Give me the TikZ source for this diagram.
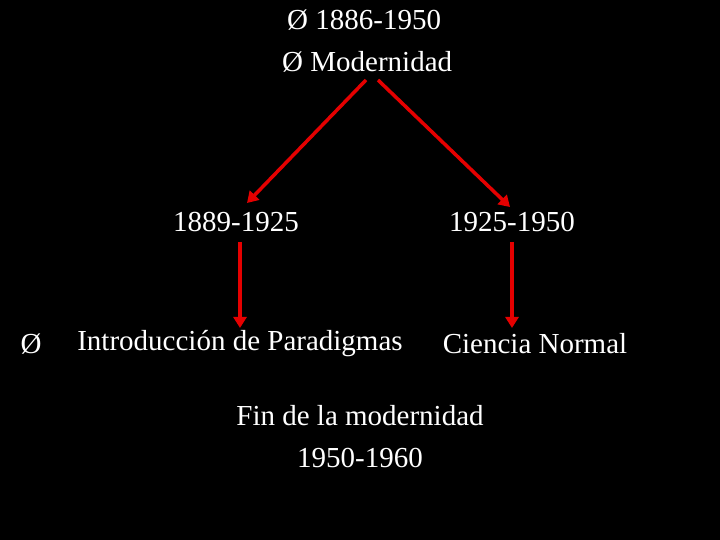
\documentclass[tikz,border=0pt]{standalone}
\usepackage{fontspec}
\setmainfont{Liberation Serif}
\usetikzlibrary{arrows.meta}
\begin{document}
\begin{tikzpicture}[x=1pt,y=1pt,
  txt/.style={text=white,font=\fontsize{29}{34}\selectfont,inner sep=0pt},
  arr/.style={draw=red!90!black,line width=3.5pt,-{Triangle[length=11pt,width=13pt]}}]
\fill[black] (0,0) rectangle (720,540);
\useasboundingbox (0,0) rectangle (720,540);
\node[txt,anchor=west] (t1) at (287,520) {Ø 1886-1950};
\node[txt,anchor=west] (t2) at (282,478) {Ø Modernidad};
\node[txt] (a) at (236,318) {1889-1925};
\node[txt] (b) at (512,318) {1925-1950};
\node[txt] (bul) at (31,196) {Ø};
\node[txt] (c) at (240,196) {Introducción de Paradigmas};
\node[txt] (d) at (535,196) {Ciencia Normal};
\node[txt] (e) at (360,124) {Fin de la modernidad};
\node[txt] (f) at (360,82) {1950-1960};
\coordinate (s1) at (366,460);
\coordinate (s2) at (378,460);
\coordinate (ea) at (247,337);
\coordinate (eb) at (510,333);
\draw[arr] (s1) -- (ea);
\draw[arr] (s2) -- (eb);
\draw[arr] (a.south -| 240,0) ++(0,-10) coordinate (a1) -- (240,212);
\draw[arr] (512,298) coordinate (b1) -- (512,212);
\end{tikzpicture}
\end{document}
